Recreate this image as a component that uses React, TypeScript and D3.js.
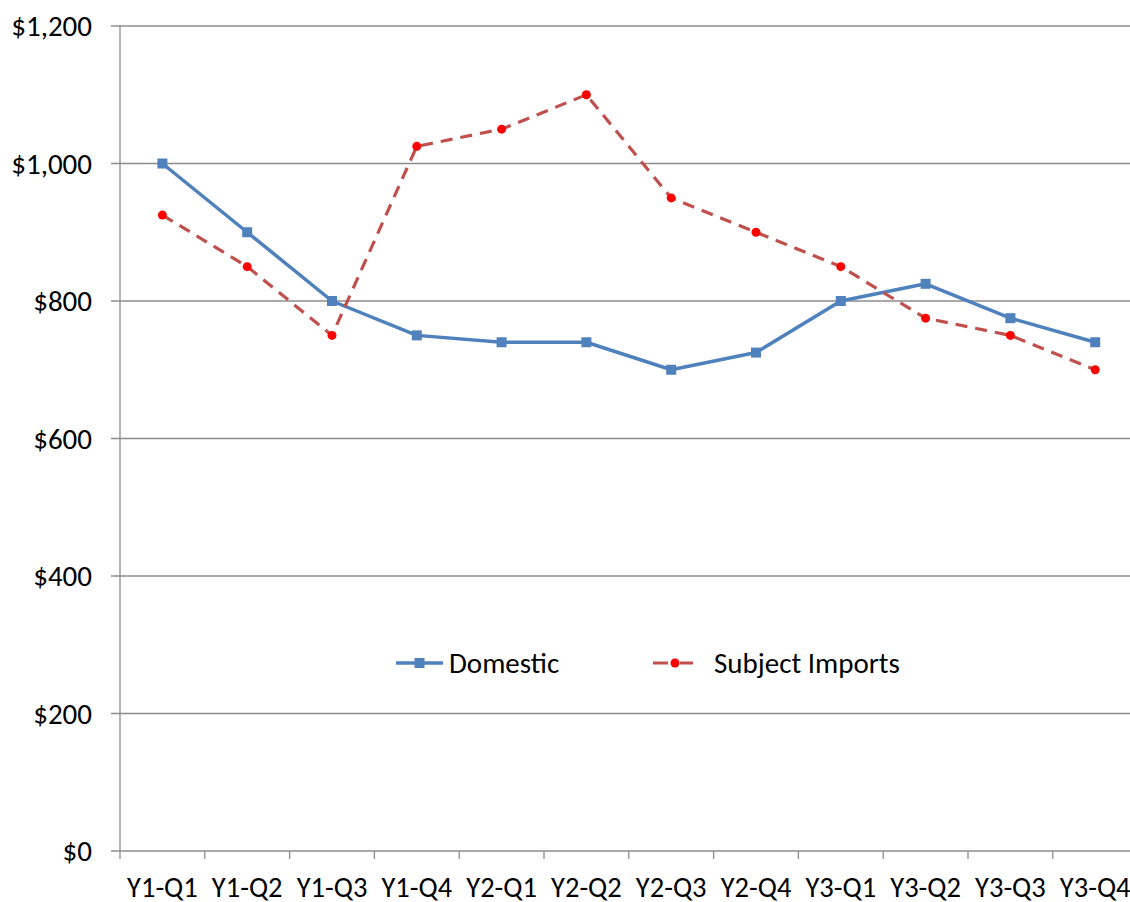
import React from "react";
import * as d3 from "d3";

const categories = ["Y1-Q1","Y1-Q2","Y1-Q3","Y1-Q4","Y2-Q1","Y2-Q2","Y2-Q3","Y2-Q4","Y3-Q1","Y3-Q2","Y3-Q3","Y3-Q4"];
const domestic = [1000, 900, 800, 750, 740, 740, 700, 725, 800, 825, 775, 740];
const subjectImports = [925, 850, 750, 1025, 1050, 1100, 950, 900, 850, 775, 750, 700];
const yTicks = [0, 200, 400, 600, 800, 1000, 1200];

const W = 1130, H = 902;
const left = 120, top = 26, bottom = 851;
const band = 84.8;
const FONT = "Carlito, Lato, 'Open Sans', sans-serif";

export default function App() {
  const x = d3.scaleBand<string>().domain(categories).range([left, left + band * categories.length]).paddingInner(0).paddingOuter(0);
  const y = d3.scaleLinear().domain([0, 1200]).range([bottom, top]);
  const cx = (c: string) => (x(c) as number) + x.bandwidth() / 2;
  const line = d3.line<number>().x((_, i) => cx(categories[i])).y(d => y(d));
  const fmt = (v: number) => "$" + d3.format(",")(v);
  const ticksX = categories.map(c => x(c) as number).concat([left + band * categories.length]);
  return (
    <svg width={W} height={H} style={{ position: "absolute", left: 0, top: 0, background: "#fff" }}>
      {yTicks.map(t => (
        <g key={t}>
          <line x1={111} x2={W} y1={y(t)} y2={y(t)} stroke="#8c8c8c" strokeWidth={1.3} />
          <text x={92} y={y(t)} dy="0.35em" textAnchor="end" fontFamily={FONT} fontSize={29} fill="#000">{fmt(t)}</text>
        </g>
      ))}
      <line x1={left} x2={left} y1={top} y2={bottom} stroke="#8c8c8c" strokeWidth={1.3} />
      {ticksX.map((t, i) => (
        <line key={i} x1={t} x2={t} y1={bottom} y2={bottom + 8} stroke="#8c8c8c" strokeWidth={1.3} />
      ))}
      {categories.map(c => (
        <text key={c} x={cx(c)} y={897} textAnchor="middle" fontFamily={FONT} fontSize={28.5} fill="#000">{c}</text>
      ))}
      <path d={line(domestic) || ""} fill="none" stroke="#4F81BD" strokeWidth={3.5} strokeLinejoin="round" />
      <path d={line(subjectImports) || ""} fill="none" stroke="#C0504D" strokeWidth={3.2} strokeDasharray="12 8" />
      {domestic.map((v, i) => (
        <rect key={i} x={cx(categories[i]) - 5} y={y(v) - 5} width={10} height={10} fill="#4F81BD" />
      ))}
      {subjectImports.map((v, i) => (
        <circle key={i} cx={cx(categories[i])} cy={y(v)} r={4.5} fill="#FF0000" />
      ))}
      <g>
        <line x1={396} x2={443} y1={663} y2={663} stroke="#4F81BD" strokeWidth={3.5} />
        <rect x={414.5} y={658} width={10} height={10} fill="#4F81BD" />
        <text x={449} y={663} dy="0.35em" fontFamily={FONT} fontSize={29} fill="#000">Domestic</text>
        <line x1={653} x2={693} y1={663} y2={663} stroke="#C0504D" strokeWidth={3.2} strokeDasharray="15 12" />
        <circle cx={675} cy={663} r={4.5} fill="#FF0000" />
        <text x={714} y={663} dy="0.35em" fontFamily={FONT} fontSize={29} fill="#000">Subject Imports</text>
      </g>
    </svg>
  );
}
